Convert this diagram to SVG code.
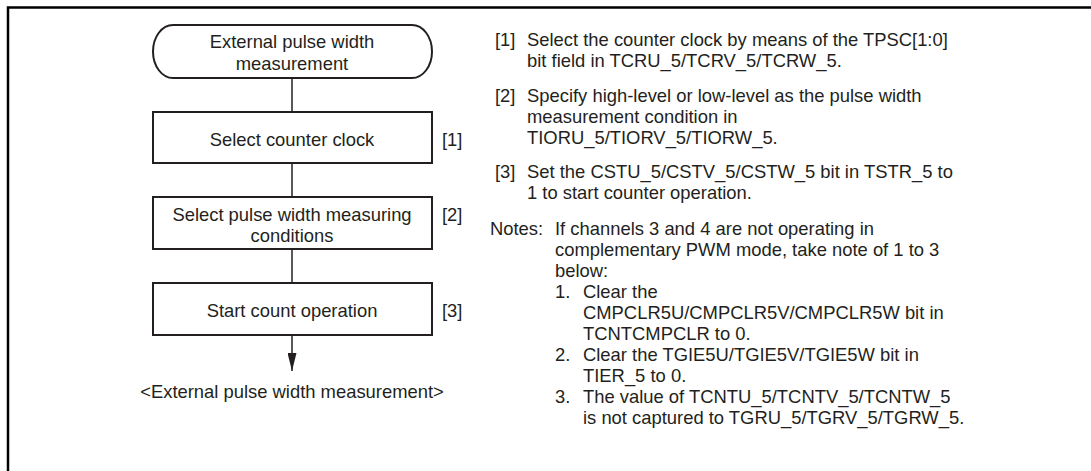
<svg xmlns="http://www.w3.org/2000/svg" width="1091" height="471" viewBox="0 0 1091 471">
<style>
text{font-family:"Liberation Sans",Arial,sans-serif;font-size:18.4px;fill:#231f20}
.c{text-anchor:middle}
.box{fill:#fff;stroke:#231f20;stroke-width:2}
.ln{stroke:#231f20;stroke-width:1.5;fill:none}
.frame{stroke:#000;stroke-width:2.5;fill:none}
</style>
<defs>
<marker id="ah" markerWidth="18" markerHeight="9" refX="18" refY="4.5" orient="auto" markerUnits="userSpaceOnUse" viewBox="0 0 18 9">
<path d="M0,0 L18,4.5 L0,9 Z" fill="#231f20"/>
</marker>
</defs>
<path class="frame" d="M8,471 L8,7.5 L1091,7.5"/>
<g id="connectors">
<line class="ln" x1="292" y1="78" x2="292" y2="112"/>
<line class="ln" x1="292" y1="163" x2="292" y2="197"/>
<line class="ln" x1="292" y1="249" x2="292" y2="283"/>
<line class="ln" x1="292" y1="335" x2="292" y2="371" marker-end="url(#ah)"/>
</g>
<g id="start">
<path class="box" d="M173,25 L412,25 A20,26.5 0 0 1 412,78 L173,78 A20,26.5 0 0 1 173,25 Z"/>
<text class="c" x="292" y="48">External pulse width</text>
<text class="c" x="292" y="70">measurement</text>
</g>
<g id="step1">
<rect class="box" x="153" y="112" width="279" height="51"/>
<text class="c" x="292" y="146">Select counter clock</text>
<text x="442" y="146">[1]</text>
</g>
<g id="step2">
<rect class="box" x="153" y="197" width="279" height="52"/>
<text class="c" x="292" y="221">Select pulse width measuring</text>
<text class="c" x="292" y="242">conditions</text>
<text x="442" y="221">[2]</text>
</g>
<g id="step3">
<rect class="box" x="153" y="283" width="279" height="52"/>
<text class="c" x="292" y="317">Start count operation</text>
<text x="442" y="317">[3]</text>
</g>
<g id="end">
<text class="c" x="292" y="398">&lt;External pulse width measurement&gt;</text>
</g>
<g id="notes">
<text x="495" y="46">[1]</text>
<text x="527" y="46">Select the counter clock by means of the TPSC[1:0]</text>
<text x="527" y="67">bit field in TCRU_5/TCRV_5/TCRW_5.</text>
<text x="495" y="102">[2]</text>
<text x="527" y="102">Specify high-level or low-level as the pulse width</text>
<text x="527" y="123">measurement condition in</text>
<text x="527" y="144">TIORU_5/TIORV_5/TIORW_5.</text>
<text x="495" y="178">[3]</text>
<text x="527" y="178">Set the CSTU_5/CSTV_5/CSTW_5 bit in TSTR_5 to</text>
<text x="527" y="199">1 to start counter operation.</text>
<text x="490" y="235">Notes:</text>
<text x="555" y="235">If channels 3 and 4 are not operating in</text>
<text x="555" y="256">complementary PWM mode, take note of 1 to 3</text>
<text x="555" y="277">below:</text>
<text x="555" y="298">1.</text>
<text x="583" y="298">Clear the</text>
<text x="583" y="319">CMPCLR5U/CMPCLR5V/CMPCLR5W bit in</text>
<text x="583" y="340">TCNTCMPCLR to 0.</text>
<text x="555" y="361">2.</text>
<text x="583" y="361">Clear the TGIE5U/TGIE5V/TGIE5W bit in</text>
<text x="583" y="382">TIER_5 to 0.</text>
<text x="555" y="403">3.</text>
<text x="583" y="403">The value of TCNTU_5/TCNTV_5/TCNTW_5</text>
<text x="583" y="424">is not captured to TGRU_5/TGRV_5/TGRW_5.</text>
</g>
</svg>
